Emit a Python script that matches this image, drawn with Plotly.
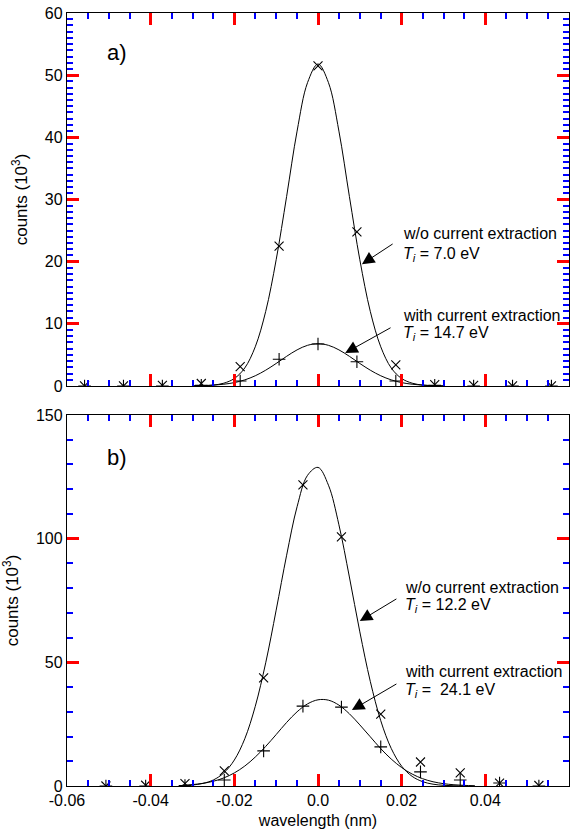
import numpy as np
import plotly.graph_objects as go
from plotly.subplots import make_subplots

# ---------------- data ----------------
wl_a = [-0.0558, -0.0465, -0.0372, -0.0279, -0.0186, -0.0093, 0.0, 0.0093, 0.0186, 0.0279, 0.0372, 0.0465, 0.0558]
a_wo_pts = [0.0, 0.0, 0.1, 0.4, 3.1, 22.5, 51.5, 24.8, 3.4, 0.2, 0.1, 0.0, 0.0]
a_with_pts = [0.0, 0.0, 0.0, 0.1, 0.8, 4.3, 6.75, 3.9, 0.8, 0.1, 0.0, 0.0, 0.0]

a_fit_x = np.round(np.arange(-0.03, 0.03001, 0.0025), 4)
a_wo_fit = [0.01, 0.04, 0.15, 0.45, 1.2, 2.9, 6.3, 12.0, 20.3, 30.5, 41.0, 48.8, 51.8,
            48.8, 41.0, 30.5, 20.3, 12.0, 6.3, 2.9, 1.2, 0.45, 0.15, 0.04, 0.01]
a_with_fit = [0.02, 0.06, 0.13, 0.28, 0.54, 0.98, 1.64, 2.54, 3.62, 4.77, 5.81, 6.54, 6.8,
              6.54, 5.81, 4.77, 3.62, 2.54, 1.64, 0.98, 0.54, 0.28, 0.13, 0.06, 0.02]

wl_b = [-0.0507, -0.0412, -0.0318, -0.0224, -0.013, -0.0036, 0.0056, 0.015, 0.0245, 0.034, 0.0434, 0.0528]
b_wo_pts = [0.0, 0.3, 1.0, 6.1, 43.7, 121.7, 100.7, 29.1, 9.7, 5.3, 1.2, 0.2]
b_with_pts = [0.0, 0.0, 0.2, 2.4, 14.2, 32.3, 31.9, 15.8, 5.7, 2.4, 1.2, 0.0]

b_wo_fit_x = np.round(np.arange(-0.0325, 0.03501, 0.0025), 4)
b_wo_fit = [0.15, 0.41, 1.05, 2.45, 5.3, 10.5, 19.1, 32.2, 49.8, 71.1, 93.3, 112.9, 125.6, 128.8,
            121.6, 105.6, 84.5, 62.3, 42.3, 26.4, 15.2, 8.0, 3.9, 1.76, 0.73, 0.28, 0.10, 0.03]
b_with_fit_x = np.round(np.arange(-0.0325, 0.03751, 0.0025), 4)
b_with_fit = [0.29, 0.57, 1.08, 1.93, 3.28, 5.29, 8.07, 11.7, 16.0, 20.8, 25.7, 30.0, 33.2, 34.85,
              34.7, 32.7, 29.2, 24.7, 19.9, 15.1, 10.9, 7.45, 4.83, 2.96, 1.72, 0.95, 0.50, 0.25, 0.12]

x_label_alias = {"\u22120.06": "-0.06", "\u22120.04": "-0.04", "\u22120.02": "-0.02", "0": "0.0",
                 "-0.06": "-0.06", "-0.04": "-0.04", "-0.02": "-0.02"}

FONT = "Liberation Sans, Arial, Helvetica, sans-serif"
fig = make_subplots(rows=2, cols=1, vertical_spacing=0.0375)

line_style = dict(color="black", width=1)
mk_x = dict(symbol="x-thin", size=9, line=dict(color="black", width=1.1), color="black")
mk_p = dict(symbol="cross-thin", size=9, line=dict(color="black", width=1.1), color="black")

fig.add_trace(go.Scatter(x=a_fit_x, y=a_wo_fit, mode="lines", line=dict(shape="spline", **line_style)), 1, 1)
fig.add_trace(go.Scatter(x=a_fit_x, y=a_with_fit, mode="lines", line=dict(shape="spline", **line_style)), 1, 1)
fig.add_trace(go.Scatter(x=wl_a, y=a_wo_pts, mode="markers", marker=mk_x), 1, 1)
fig.add_trace(go.Scatter(x=wl_a, y=a_with_pts, mode="markers", marker=mk_p), 1, 1)

fig.add_trace(go.Scatter(x=b_wo_fit_x, y=b_wo_fit, mode="lines", line=dict(shape="spline", **line_style)), 2, 1)
fig.add_trace(go.Scatter(x=b_with_fit_x, y=b_with_fit, mode="lines", line=dict(shape="spline", **line_style)), 2, 1)
fig.add_trace(go.Scatter(x=wl_b, y=b_wo_pts, mode="markers", marker=mk_x), 2, 1)
fig.add_trace(go.Scatter(x=wl_b, y=b_with_pts, mode="markers", marker=mk_p), 2, 1)

TICKC = "red"

fig.update_xaxes(
    range=[-0.06, 0.06], tickmode="linear", tick0=0, dtick=0.02, labelalias=x_label_alias,
    ticks="inside", ticklen=12, tickwidth=3, tickcolor=TICKC,
    minor=dict(tick0=0, dtick=0.005, ticks="inside", ticklen=6, tickwidth=2, tickcolor="blue"),
    showline=True, linecolor="black", linewidth=1.3, mirror="ticks",
    showgrid=False, zeroline=False,
    tickfont=dict(family=FONT, size=16, color="black"),
)
fig.update_xaxes(showticklabels=False, row=1, col=1)
fig.update_xaxes(title_text="wavelength (nm)", title_font=dict(family=FONT, size=16, color="black"),
                 title_standoff=6, row=2, col=1)

fig.update_yaxes(
    ticks="inside", ticklen=12, tickwidth=3, tickcolor=TICKC,
    showline=True, linecolor="black", linewidth=1.3, mirror="ticks",
    showgrid=False, zeroline=False,
    tickfont=dict(family=FONT, size=16, color="black"),
    title_text="counts (10<sup>3</sup>)", title_font=dict(family=FONT, size=17, color="black"),
    title_standoff=12,
)
fig.update_yaxes(range=[0, 60], tickmode="linear", tick0=0, dtick=10,
                 minor=dict(tick0=0, dtick=1, ticks="inside", ticklen=6, tickwidth=2, tickcolor="blue"),
                 row=1, col=1)
fig.update_yaxes(range=[0, 150], tickmode="linear", tick0=0, dtick=50,
                 minor=dict(tick0=0, dtick=10, ticks="inside", ticklen=6, tickwidth=2, tickcolor="blue"),
                 row=2, col=1)

annotations = []

def label(text, x, y, xref, yref, size=16):
    annotations.append(dict(text=text, x=x, y=y, xref=xref, yref=yref, xanchor="left", yanchor="middle",
                            showarrow=False, font=dict(family=FONT, size=size, color="black")))

def arrow(x, y, ax, ay, xref, yref):
    annotations.append(dict(text="", x=x, y=y, ax=ax, ay=ay, xref=xref, yref=yref, axref=xref, ayref=yref,
                            showarrow=True, arrowhead=2, arrowsize=2.5, arrowwidth=1, arrowcolor="black",
                            standoff=0, startstandoff=0))

label("a)", -0.051, 53.7, "x", "y", size=22)
label("w/o current extraction", 0.0198, 24.6, "x", "y")
label("<i>T</i><sub><i>i</i></sub> = 7.0 eV", 0.0198, 21.2, "x", "y")
arrow(0.0105, 19.6, 0.0182, 23.0, "x", "y")
label("with current extraction", 0.0198, 11.4, "x", "y")
label("<i>T</i><sub><i>i</i></sub> = 14.7 eV", 0.0198, 8.4, "x", "y")
arrow(0.0065, 5.3, 0.0177, 9.5, "x", "y")

label("b)", -0.051, 133, "x2", "y2", size=22)
label("w/o current extraction", 0.0203, 80.1, "x2", "y2")
label("<i>T</i><sub><i>i</i></sub> = 12.2 eV", 0.0203, 72.8, "x2", "y2")
arrow(0.0100, 66.7, 0.0191, 76.0, "x2", "y2")
label("with current extraction", 0.0203, 46.1, "x2", "y2")
label("<i>T</i><sub><i>i</i></sub> =\u00a0 24.1 eV", 0.0203, 38.8, "x2", "y2")
arrow(0.0081, 30.7, 0.0191, 41.6, "x2", "y2")

fig.update_layout(
    width=581, height=833,
    margin=dict(l=67, r=12, t=13, b=47, autoexpand=False),
    paper_bgcolor="white", plot_bgcolor="white",
    showlegend=False,
    annotations=annotations,
    font=dict(family=FONT, size=16, color="black"),
)
fig.layout.yaxis.domain = [0.5175, 1.0]
fig.layout.yaxis2.domain = [0.0, 0.48]

fig.write_html(
    "out.html",
    config={"displayModeBar": False},
    post_script="document.body.style.margin='0';document.body.style.padding='0';document.body.style.overflow='hidden';",
)
